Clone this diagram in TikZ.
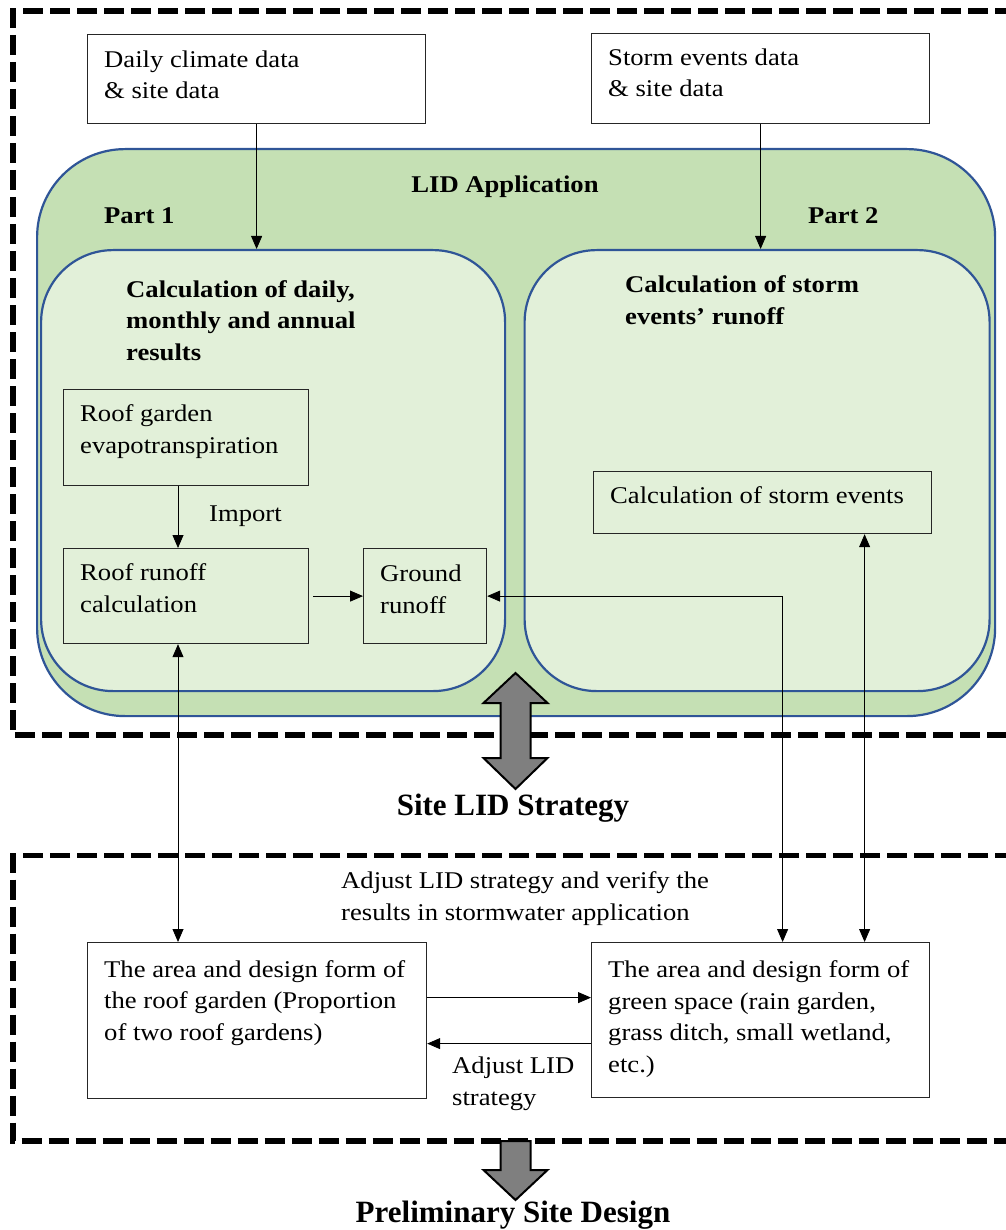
\documentclass[tikz,border=0pt]{standalone}
\usepackage{fontspec}
\setmainfont{Liberation Serif}[FakeStretch=1.11]
\newfontfamily\titlefont{Liberation Serif}
\usetikzlibrary{arrows.meta}
\definecolor{outerg}{HTML}{C5E0B4}
\definecolor{innerg}{HTML}{E2F0D9}
\definecolor{bord}{HTML}{2F5597}
\definecolor{garrow}{HTML}{7F7F7F}
\begin{document}
\begin{tikzpicture}[x=1pt,y=-1pt,
  font=\fontsize{24}{31.5}\selectfont,
  >={Triangle[length=13pt,width=11pt]},
  dashbox/.style={line width=5.5pt, dash pattern=on 20pt off 7pt},
  pane/.style={draw=bord, line width=2.2pt, inner sep=0pt, anchor=north west},
  box/.style={draw=black!85, line width=1.2pt, inner sep=0pt, anchor=north west},
  txt/.style={inner sep=0pt, anchor=base west, align=left},
  head/.style={txt, font=\fontsize{24}{31.5}\selectfont\bfseries},
  title/.style={inner sep=0pt, anchor=base, font=\titlefont\fontsize{31}{36}\selectfont\bfseries},
  conn/.style={line width=0.8pt, draw=black},
  bigarrow/.style={fill=garrow, draw=black, line width=2pt, line join=miter}
]
\useasboundingbox (0,0) rectangle (1005,1230);

% dashed frames
\draw[dashbox] (1015,11) -- (13,11) -- (13,735) -- (1015,735);
\draw[dashbox] (1015,855.5) -- (13,855.5) -- (13,1141) -- (1015,1141);

% input boxes (text anchored at baseline of last line)
\node[box, minimum width=338, minimum height=89] (daily) at (87,34) {};
\node[txt] (dailyt) at (104,99) {Daily climate data\\\& site data};
\node[box, minimum width=338, minimum height=90] (storm) at (591,33) {};
\node[txt] (stormt) at (608,97) {Storm events data\\\& site data};

% LID application panes
\node[pane, fill=outerg, rounded corners=88pt, minimum width=958, minimum height=567] (lid) at (36,148) {};
\node[pane, fill=innerg, rounded corners=72pt, minimum width=464, minimum height=441] (p1) at (40,249) {};
\node[pane, fill=innerg, rounded corners=72pt, minimum width=465, minimum height=441] (p2) at (523.5,249) {};
\node[head, anchor=base] (lidt) at (505,193) {LID Application};
\node[head] (part1) at (104,224) {Part 1};
\node[head] (part2) at (808,224) {Part 2};
\node[head] (p1t) at (126,360) {Calculation of daily,\\monthly and annual\\results};
\node[head] (p2t) at (625,324) {Calculation of storm\\events’ runoff};

% part 1 content
\node[box, minimum width=245, minimum height=96] (evap) at (63,389) {};
\node[txt] (evapt) at (80,453) {Roof garden\\evapotranspiration};
\node[txt] (importt) at (209,521) {Import};
\node[box, minimum width=245, minimum height=95] (roofrun) at (63,548) {};
\node[txt] (roofrunt) at (80,612) {Roof runoff\\calculation};
\node[box, minimum width=123, minimum height=95] (ground) at (363,548) {};
\node[txt] (groundt) at (380,613) {Ground\\runoff};

% part 2 content
\node[box, minimum width=338, minimum height=62] (stormcalc) at (593,471) {};
\node[txt] (stormcalct) at (610,503) {Calculation of storm events};

% big double arrow
\draw[bigarrow] (515.5,673) -- (547.5,703) -- (530.5,703) -- (530.5,758) -- (547.5,758) -- (515.5,789)
  -- (483.5,758) -- (500.5,758) -- (500.5,703) -- (483.5,703) -- cycle;
\node[title] (sitet) at (513,815) {Site LID Strategy};

% bottom section
\node[txt] (adjt) at (341,920) {Adjust LID strategy and verify the\\results in stormwater application};
\node[box, minimum width=339, minimum height=156] (rgdesign) at (87,942) {};
\node[txt] (rgdesignt) at (104,1040) {The area and design form of\\the roof garden (Proportion\\of two roof gardens)};
\node[box, minimum width=338, minimum height=155] (gsdesign) at (591,942) {};
\node[txt] (gsdesignt) at (608,1072) {The area and design form of\\green space (rain garden,\\grass ditch, small wetland,\\etc.)};
\node[txt] (adj2) at (452,1105) {Adjust LID\\strategy};

% bottom arrow
\draw[bigarrow] (500.5,1141) -- (530.5,1141) -- (530.5,1170) -- (547.5,1170) -- (515.5,1200)
  -- (483.5,1170) -- (500.5,1170) -- cycle;
\node[title] (prelt) at (513,1222) {Preliminary Site Design};

% connectors
\coordinate (xl) at (178,0);
\draw[conn,->] (daily.south) -- (daily.south |- p1.north);
\draw[conn,->] (storm.south) -- (storm.south |- p2.north);
\draw[conn,->] (evap.south -| xl) -- (roofrun.north -| xl);
\draw[conn,->] ([xshift=4pt]roofrun.east) -- (ground.west);
\draw[conn,<->] (ground.east) -| ([xshift=22pt]gsdesign.north);
\draw[conn,<->] ([xshift=102pt]stormcalc.south) -- ([xshift=102pt]stormcalc.south |- gsdesign.north);
\draw[conn,<->] (roofrun.south -| xl) -- (rgdesign.north -| xl);
\draw[conn,->] ([yshift=23pt]rgdesign.east) -- ([yshift=23pt]rgdesign.east -| gsdesign.west);
\draw[conn,->] ([yshift=-23pt]rgdesign.east -| gsdesign.west) -- ([yshift=-23pt]rgdesign.east);
\end{tikzpicture}
\end{document}
